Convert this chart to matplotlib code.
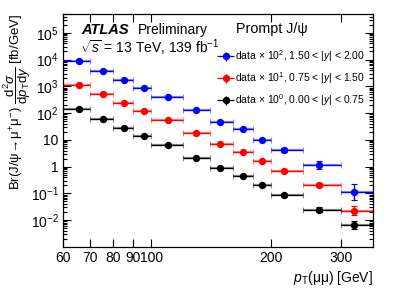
import numpy as np
import matplotlib
matplotlib.use("Agg")
from matplotlib import pyplot as plt
from matplotlib import ticker
from matplotlib.legend_handler import HandlerErrorbar

plt.rcParams['font.family'] = ['Liberation Sans', 'DejaVu Sans']
plt.rcParams['mathtext.fontset'] = 'custom'
plt.rcParams['mathtext.rm'] = 'Liberation Sans'
plt.rcParams['mathtext.it'] = 'Liberation Sans:italic'
plt.rcParams['mathtext.bf'] = 'Liberation Sans:bold'

# bin edges in pT and mean pT of each bin
edges = [60, 70, 80, 90, 100, 120, 140, 160, 180, 200, 240, 300, 360]
pt    = [66, 75.5, 85.6, 95.6, 110, 129.3, 149, 169.4, 189.7, 215.6, 263, 322]

# scaled cross sections (already multiplied by 10^2, 10^1, 10^0)
blue  = [8900, 3800, 1660, 860, 392, 132, 48, 25.4, 9.8, 4.3, 1.13, 0.112]
red   = [1150, 495, 234, 117, 55.6, 18.5, 6.95, 3.66, 1.6, 0.69, 0.205, 0.023]
black = [142, 59, 28.5, 14.3, 6.2, 2.18, 0.92, 0.435, 0.21, 0.084, 0.025, 0.0066]

# error half-widths in decades
blue_err  = [0.02, 0.02, 0.02, 0.02, 0.02, 0.02, 0.03, 0.03, 0.04, 0.07, 0.14, 0.30]
red_err   = [0.02, 0.02, 0.02, 0.02, 0.02, 0.02, 0.03, 0.03, 0.04, 0.05, 0.08, 0.16]
black_err = [0.02, 0.02, 0.02, 0.02, 0.02, 0.02, 0.03, 0.03, 0.04, 0.05, 0.09, 0.14]

labels = [r"data $\times$ 10$^{2}$, 1.50 < |$y$| < 2.00",
          r"data $\times$ 10$^{1}$, 0.75 < |$y$| < 1.50",
          r"data $\times$ 10$^{0}$, 0.00 < |$y$| < 0.75"]
colors = ["#0000ff", "#ff0000", "#000000"]

fig = plt.figure(figsize=(3.93, 2.94), dpi=100)
ax = fig.add_axes([63/393, 1-247/294, 310/393, 233/294])

lo = np.array(edges[:-1])
hi = np.array(edges[1:])
x = np.array(pt)
xerr = [x - lo, hi - x]

handles = []
for vals, errs, c in zip([blue, red, black], [blue_err, red_err, black_err], colors):
    v = np.array(vals)
    e = np.array(errs)
    yerr = [v * (1 - 10**-e), v * (10**e - 1)]
    # systematic-like light band
    ax.errorbar(x, v, xerr=xerr, fmt='none', ecolor=c, alpha=0.45,
                elinewidth=1.6, capsize=2.2, capthick=0.8)
    h = ax.errorbar(x, v, xerr=xerr, yerr=yerr, fmt='o', color=c, ms=4.3,
                    elinewidth=0.9, capsize=0, mec=c)
    ax.errorbar(x, v, yerr=yerr, fmt='none', ecolor=c, elinewidth=0.8,
                capsize=2.0, capthick=0.8)
    handles.append(h)

ax.set_xscale('log')
ax.set_yscale('log')
ax.set_xlim(60, 360)
ax.set_ylim(1e-3, 5e5)

ax.xaxis.set_major_locator(ticker.FixedLocator([60, 70, 80, 90, 100, 200, 300]))
ax.xaxis.set_major_formatter(ticker.FuncFormatter(lambda v, p: "%d" % v))
ax.xaxis.set_minor_locator(ticker.NullLocator())

yt = [1e-2, 1e-1, 1, 10, 1e2, 1e3, 1e4, 1e5]
ytl = [r"10$^{-2}$", r"10$^{-1}$", "1", "10", r"10$^{2}$", r"10$^{3}$", r"10$^{4}$", r"10$^{5}$"]
ax.yaxis.set_major_locator(ticker.FixedLocator(yt))
ax.yaxis.set_major_formatter(ticker.FixedFormatter(ytl))
ax.yaxis.set_minor_locator(ticker.LogLocator(base=10, subs=np.arange(2, 10), numticks=20))
ax.yaxis.set_minor_formatter(ticker.NullFormatter())

ax.tick_params(which='both', direction='in', top=True, right=True, labelsize=10, width=0.8)
ax.tick_params(which='major', length=6, pad=3)
ax.tick_params(which='minor', length=3)
for s in ax.spines.values():
    s.set_linewidth(0.9)

ax.set_xlabel(r"$p_{\mathrm{T}}$(μμ) [GeV]", fontsize=10, loc='right')
ax.set_ylabel(r"Br(J/ψ$\!\rightarrow\!$μ$^{+}$μ$^{-}$) $\dfrac{\mathrm{d}^{2}\sigma}{\mathrm{d}p_{\mathrm{T}}\mathrm{d}y}$ [fb/GeV]",
              fontsize=9.5, loc='top')
ax.yaxis.set_label_coords(-0.097, 1.0)
ax.xaxis.set_label_coords(1.0, -0.095)

fig.text(81/393, 1-30/294, "ATLAS", fontsize=10.5, fontweight='bold', fontstyle='italic', va='center')
fig.text(138/393, 1-30/294, "Preliminary", fontsize=10, va='center')
fig.text(80/393, 1-48/294, r"$\sqrt{s}$ = 13 TeV, 139 fb$^{-1}$", fontsize=10, va='center')
fig.text(236/393, 1-29/294, "Prompt J/ψ", fontsize=10.3, va='center')

ax.legend(handles, labels, loc='upper left', bbox_to_anchor=(212/393, 1-43/294),
          bbox_transform=fig.transFigure, frameon=False, fontsize=7.5,
          handlelength=1.6, handletextpad=0.15, labelspacing=0.6, borderpad=0,
          handler_map={type(handles[0]): HandlerErrorbar(xerr_size=0.8, yerr_size=0.45)})

fig.savefig("out.png", dpi=100)
